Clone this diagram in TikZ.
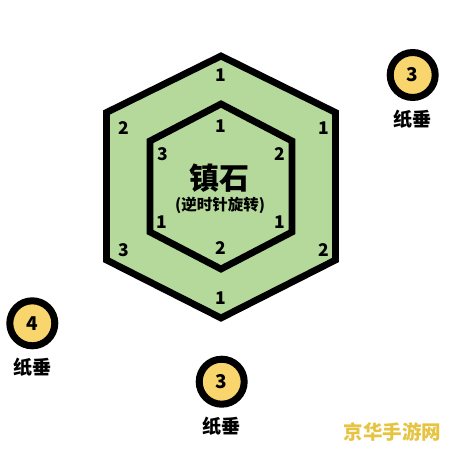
\documentclass[tikz,border=0pt]{standalone}
\usepackage{fontspec}
\setmainfont{Noto Sans CJK SC}
\usetikzlibrary{positioning}
\definecolor{hexgreen}{HTML}{B4D99B}
\definecolor{stoneyellow}{HTML}{F9D56E}
\definecolor{markgold}{HTML}{E6C441}

\begin{document}
\begin{tikzpicture}[x=1pt, y=-1pt,
    hexline/.style={draw=black, line width=6.8pt, line join=miter, fill=hexgreen},
    num/.style={font=\fontsize{17.5}{17.5}\selectfont\bfseries, inner sep=0},
    weight/.style={circle, draw=black, line width=7pt, fill=stoneyellow,
      minimum size=45pt, inner sep=0, font=\fontsize{19}{19}\selectfont\bfseries},
    weightname/.style={inner sep=0, font=\fontsize{19}{19}\selectfont\bfseries}]
  \useasboundingbox[fill=white] (0,0) rectangle (452,452);

  % outer ring
  \coordinate (o1) at (221,56);
  \coordinate (o2) at (106.5,112.5);
  \coordinate (o3) at (106.5,260);
  \coordinate (o4) at (221,318);
  \coordinate (o5) at (335.5,260);
  \coordinate (o6) at (335.5,112.5);
  \draw[hexline] (o1) -- (o2) -- (o3) -- (o4) -- (o5) -- (o6) -- cycle;

  % inner ring
  \coordinate (i1) at (221,104);
  \coordinate (i2) at (150,141);
  \coordinate (i3) at (150,232);
  \coordinate (i4) at (221,269);
  \coordinate (i5) at (292,232);
  \coordinate (i6) at (292,141);
  \draw[hexline] (i1) -- (i2) -- (i3) -- (i4) -- (i5) -- (i6) -- cycle;

  % numbers on the outer ring
  \node[num] (otop) at (221,75) {1};
  \node[num] (oul) at (124,128) {2};
  \node[num] (our) at (324,128) {1};
  \node[num] (oll) at (123.5,250) {3};
  \node[num] (olr) at (323.5,250) {2};
  \node[num] (obot) at (221,298) {1};

  % numbers on the inner ring
  \node[num] (itop) at (221,126) {1};
  \node[num] (iul) at (163,154) {3};
  \node[num] (iur) at (280,154) {2};
  \node[num] (ill) at (162,222) {1};
  \node[num] (ilr) at (280,222) {1};
  \node[num] (ibot) at (221,248.5) {2};

  \node[inner sep=0, font=\fontsize{30}{30}\selectfont\bfseries] (stone) at (219,178) {镇石};
  \node[inner sep=0, font=\fontsize{15.5}{15.5}\selectfont\bfseries] (turn) at (220,205) {(逆时针旋转)};

  % weights
  \node[weight] (w1) at (412.7,75) {3};
  \node[weightname, below=9pt of w1] (w1name) {纸垂};
  \node[weight] (w2) at (32.3,323.3) {4};
  \node[weightname, below=9pt of w2] (w2name) {纸垂};
  \node[weight] (w3) at (221.7,381.7) {3};
  \node[weightname, below=9pt of w3] (w3name) {纸垂};

  \node[inner sep=0, text=markgold, font=\fontsize{19.5}{19.5}\selectfont\bfseries] (mark) at (392.5,432) {京华手游网};
\end{tikzpicture}
\end{document}
